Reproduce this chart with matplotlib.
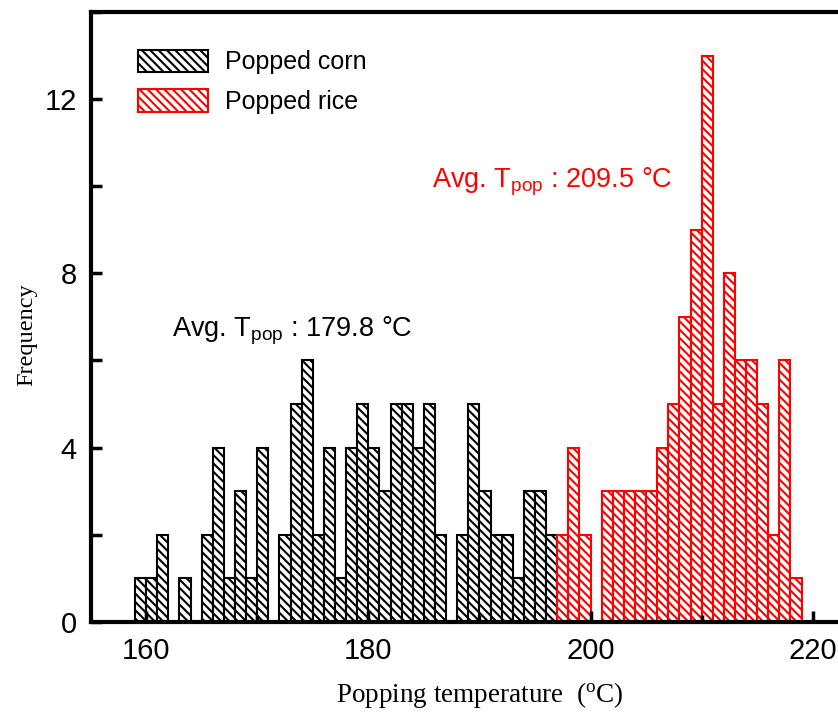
import numpy as np
import matplotlib
matplotlib.use("Agg")
from matplotlib import pyplot as plt
from matplotlib.ticker import MultipleLocator, FuncFormatter

plt.rcParams['font.family'] = ['Liberation Sans', 'DejaVu Sans']
plt.rcParams['mathtext.default'] = 'regular'
plt.rcParams['hatch.linewidth'] = 1.5

# histogram counts, 1 degC bins (left edges)
corn_edges = np.arange(159, 197)
corn_counts = [1, 1, 2, 0, 1, 0, 2, 4, 1, 3, 1, 4, 0, 2, 5, 6, 2, 4, 1,
               4, 5, 4, 3, 5, 5, 4, 5, 2, 0, 2, 5, 3, 2, 2, 1, 3, 3, 2]
rice_edges = np.arange(197, 219)
rice_counts = [2, 4, 2, 0, 3, 3, 3, 3, 3, 4, 5, 7, 9, 13, 5, 8, 6, 6,
               5, 2, 6, 1]

corn_avg = 179.8
rice_avg = 209.5

fig = plt.figure(figsize=(8.38, 7.27), dpi=100)
ax = fig.add_axes([0.1081, 0.1448, 0.928, 0.8387])

ax.bar(corn_edges, corn_counts, width=1, align='edge', facecolor='white',
       edgecolor='black', hatch='\\\\\\\\', linewidth=1.5, label='Popped corn')
ax.bar(rice_edges, rice_counts, width=1, align='edge', facecolor='white',
       edgecolor='red', hatch='\\\\\\\\', linewidth=1.5, label='Popped rice')

ax.text(162.3, 6.55, 'Avg. T$_{pop}$ : %.1f °C' % corn_avg, fontsize=19.5,
        color='black', ha='left', va='baseline')
ax.text(185.7, 9.98, 'Avg. T$_{pop}$ : %.1f °C' % rice_avg, fontsize=19.5,
        color='red', ha='left', va='baseline')

ax.set_xlim(155, 225)
ax.set_ylim(0, 14)
ax.xaxis.set_major_locator(MultipleLocator(20))
ax.xaxis.set_minor_locator(MultipleLocator(10))
ax.yaxis.set_major_locator(MultipleLocator(2))
ax.yaxis.set_major_formatter(FuncFormatter(lambda v, p: '%d' % v if v % 4 == 0 else ''))

for s in ax.spines.values():
    s.set_linewidth(3)
ax.tick_params(which='major', direction='in', length=8, width=2.5,
               labelsize=21, top=False, right=False)
ax.tick_params(which='minor', direction='in', length=5, width=2.5,
               top=False, right=False)
ax.tick_params(axis='x', pad=11)
ax.tick_params(axis='y', pad=10)

ax.set_xlabel('Popping temperature  ($^{o}$C)', fontfamily='Liberation Serif',
              fontsize=19.5, labelpad=11)
ax.set_ylabel('Frequency', fontfamily='Liberation Serif', fontsize=17.5)
ax.yaxis.set_label_coords(-0.069, 0.47)

ax.legend(loc='upper left', bbox_to_anchor=(0.032, 0.975), frameon=False,
          fontsize=18, handlelength=2.8, handleheight=1.0, handletextpad=0.7,
          labelspacing=0.6)

plt.savefig('out.png', dpi=100)
